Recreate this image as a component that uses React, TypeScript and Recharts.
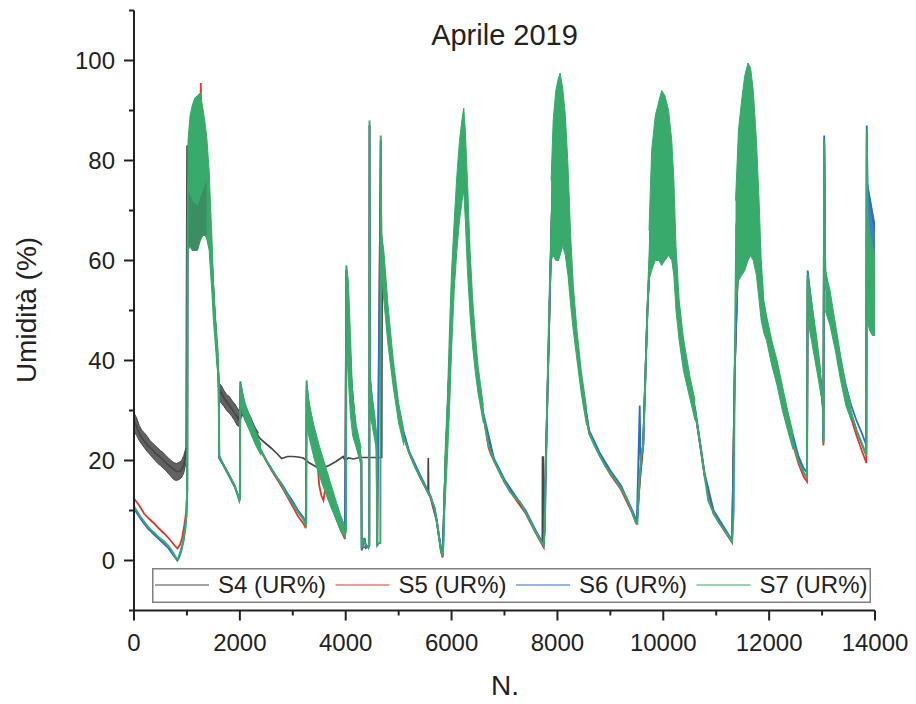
import { Area, ComposedChart, Legend, Line, XAxis, YAxis } from "recharts";

type Pt = [number, number];
type Band = [number, number, number];

const FONT = "'Liberation Sans', Arial, sans-serif";
const INK = "#222";

const SERIES_NAMES = ["S4 (UR%)", "S5 (UR%)", "S6 (UR%)", "S7 (UR%)"];
const SERIES_COLORS = ["#474747", "#e3342f", "#2c6bd0", "#37aa6c"];

const X_TICKS = [0, 1000, 2000, 3000, 4000, 5000, 6000, 7000, 8000, 9000, 10000, 11000, 12000, 13000, 14000];
const X_LABELED = [0, 2000, 4000, 6000, 8000, 10000, 12000, 14000];
const Y_TICKS = [-10, 0, 10, 20, 30, 40, 50, 60, 70, 80, 90, 100, 110];
const Y_LABELED = [0, 20, 40, 60, 80, 100];

// S4 (grigio)
const S4: Pt[] = [
  [0, 28], [60, 26.5], [120, 25], [190, 24], [260, 23], [330, 22.3], [400, 21.5], [480, 20.8], [560, 20],
  [640, 19.2], [720, 18.5], [800, 17.8], [880, 17.8], [930, 18.8], [960, 20], [985, 22], [995, 60], [1002, 83],
  [1010, 70], [1050, 68], [1100, 66], [1150, 67], [1200, 66], [1250, 68], [1300, 70], [1350, 74], [1420, 70],
  [1470, 58], [1520, 50], [1560, 43], [1590, 37], [1600, 34.5], [1650, 33.5], [1700, 32.5], [1800, 31],
  [1900, 29.5], [1970, 28.3], [2000, 29.5], [2040, 31], [2100, 29.5], [2200, 27.5], [2300, 25.5], [2400, 24.2],
  [2500, 23.3], [2600, 22.4], [2700, 21.4], [2790, 20.4], [2900, 20.8], [3000, 20.8], [3100, 20.7], [3200, 20.5],
  [3300, 19.6], [3400, 19], [3500, 18.4], [3600, 18.6], [3700, 19.1], [3800, 19.7], [3900, 20.4], [3950, 20.8],
  [3990, 20], [4050, 20.5], [4150, 20.3], [4250, 20.6], [4680, 20.6], [4690, 62], [4720, 57], [4800, 47],
  [4900, 37], [5000, 29], [5100, 24.5], [5200, 21.5], [5300, 19], [5400, 16.8], [5500, 14.8], [5555, 13.6],
  [5560, 20.5], [5566, 13.4], [5600, 12.8], [5680, 10.5], [5760, 5], [5830, 0.8], [5880, 18], [6000, 50],
  [6100, 70], [6230, 84], [6300, 67], [6400, 47], [6500, 36], [6600, 29], [6800, 20], [7000, 15.8], [7200, 12.6],
  [7400, 9.6], [7600, 5.5], [7715, 3.4], [7718, 20.7], [7735, 20.7], [7738, 3], [7760, 6], [7800, 28], [7900, 72],
  [8050, 80], [8200, 68], [8300, 50], [8450, 35.5], [8600, 25.5], [8800, 21], [9000, 17.5], [9200, 14.5],
  [9400, 10], [9500, 7.5], [9560, 16], [9620, 23], [9700, 50], [9800, 72], [9970, 77], [10120, 75], [10230, 57],
  [10380, 41], [10600, 30], [10780, 17], [10950, 9.5], [11150, 6.2], [11300, 3.8], [11350, 38], [11450, 72],
  [11600, 80], [11780, 68], [11880, 50.5], [12050, 41.5], [12250, 32.5], [12450, 23.8], [12650, 17.6],
  [12715, 16.6], [12728, 57], [12900, 41], [13015, 31], [13025, 23.5], [13040, 84], [13060, 56], [13250, 44.5],
  [13450, 33], [13650, 26], [13835, 21], [13845, 85], [13860, 65], [14000, 56],
];

const S4_BAND_A: Band[] = [
  [0, 25.8, 29.5], [50, 25, 28.5], [100, 24, 27], [150, 23.2, 26], [200, 22.5, 25.5], [250, 21.8, 24.8],
  [300, 21.2, 24], [350, 20.6, 23.5], [400, 20, 23], [450, 19.4, 22.5], [500, 19, 22], [550, 18.5, 21.6],
  [600, 18, 21], [650, 17.4, 20.5], [700, 16.8, 20], [750, 16.2, 19.6], [800, 16, 19.4], [850, 16.2, 19.6],
  [900, 16.6, 20], [940, 17.5, 21], [980, 19.5, 22.5],
];
// nel picco 1 il grigio si vede attraverso il verde
const S4_BAND_B: Band[] = [
  [1030, 62.5, 74], [1100, 62, 72], [1200, 62, 71], [1300, 65, 74], [1370, 65, 76],
];
const S4_BAND_C: Band[] = [
  [1600, 32, 35.5], [1650, 31.5, 35], [1700, 30.8, 34], [1750, 30, 33.2], [1800, 29.5, 32.8], [1850, 28.8, 32],
  [1900, 28, 31.4], [1950, 27, 30.5], [1990, 26.8, 30], [2020, 28.5, 31.8], [2060, 29.2, 32.5], [2100, 28, 31],
  [2150, 27, 29.8], [2200, 26, 28.8], [2250, 25, 27.5], [2300, 24.4, 26.4], [2350, 24, 25.6],
];

// S5 (rosso)
const S5: Pt[] = [
  [0, 12.4], [100, 11], [190, 9.4], [280, 8.4], [380, 7.4], [470, 6.4], [570, 5.4], [660, 4.4], [760, 3.1],
  [820, 2.4], [870, 3.2], [910, 4.6], [950, 7], [990, 10], [1005, 14], [1012, 60], [1050, 74], [1150, 72],
  [1200, 68], [1230, 71], [1250, 80], [1262, 95.5], [1275, 80], [1350, 76], [1440, 66], [1520, 50], [1590, 38],
  [1600, 36], [1610, 20.5], [1700, 19], [1800, 17], [1900, 15], [1960, 13.2], [1990, 12], [2000, 12.3],
  [2008, 34], [2100, 29.5], [2200, 26.8], [2400, 21.8], [2600, 18], [2800, 14.6], [3000, 10.8], [3100, 8.8],
  [3200, 7.4], [3245, 6.5], [3262, 34], [3300, 27], [3400, 22], [3460, 20.5], [3500, 15], [3540, 13], [3580, 12],
  [3620, 15], [3700, 12.5], [3800, 9], [3900, 6.2], [3985, 4.3], [4012, 58], [4100, 37], [4200, 24], [4295, 20],
  [4302, 2.5], [4445, 3], [4450, 87], [4458, 36], [4585, 22.5], [4595, 3], [4662, 84], [4672, 64], [4800, 47],
  [5000, 29], [5200, 21.5], [5400, 16.8], [5600, 12.6], [5720, 7.8], [5800, 1.8], [5830, 0.6], [5880, 18],
  [6000, 50], [6100, 70], [6230, 84], [6300, 67], [6400, 47], [6500, 36], [6600, 29], [6700, 22.5], [6750, 21],
  [6800, 20], [7000, 15.6], [7200, 12.4], [7400, 9.4], [7600, 5.3], [7740, 2.6], [7800, 28], [7900, 72],
  [8050, 80], [8200, 68], [8300, 50], [8450, 35.5], [8600, 25.5], [8800, 21], [9000, 17.2], [9200, 14.2],
  [9400, 9.8], [9500, 7.2], [9560, 17], [9620, 23], [9700, 50], [9800, 72], [9970, 77], [10120, 75], [10230, 57],
  [10380, 41], [10600, 30], [10780, 17], [10950, 9.3], [11150, 6], [11300, 3.6], [11350, 38], [11450, 72],
  [11600, 80], [11780, 68], [11880, 50.5], [12050, 41.2], [12250, 32], [12450, 23.2], [12550, 19.5],
  [12650, 16.8], [12715, 15.8], [12728, 56], [12760, 53], [12900, 41], [12980, 34.5], [13015, 30.5],
  [13025, 23], [13040, 83], [13060, 56], [13150, 50], [13250, 44], [13350, 38], [13450, 32.5], [13550, 28.5],
  [13650, 25], [13750, 22], [13820, 20], [13835, 19.5], [13845, 84], [13860, 64], [13900, 59], [13950, 56],
  [14000, 55],
];

// S6 (blu)
const S6: Pt[] = [
  [0, 10.4], [120, 8.4], [260, 6.4], [380, 5.2], [520, 3.8], [640, 2.6], [760, 0.8], [820, 0], [860, 0.8],
  [900, 2.2], [940, 4.2], [990, 8.8], [1005, 14], [1012, 60], [1050, 76], [1150, 79], [1250, 80], [1350, 77],
  [1440, 66], [1520, 50], [1590, 38], [1600, 36], [1610, 20.5], [1700, 18.8], [1800, 16.8], [1900, 14.8],
  [1990, 12.3], [2000, 12.5], [2008, 35.8], [2050, 33.2], [2100, 30], [2200, 27], [2300, 24.2], [2400, 22],
  [2500, 20], [2600, 18.3], [2700, 16.6], [2800, 15.2], [2900, 13.4], [3000, 11.8], [3100, 10], [3200, 8.6],
  [3245, 7.4], [3262, 35], [3400, 23], [3600, 16.5], [3800, 10.5], [3985, 5], [4012, 58], [4100, 37],
  [4200, 24.5], [4295, 20], [4302, 2], [4360, 4.5], [4380, 2.5], [4445, 3], [4450, 87], [4458, 36], [4585, 23],
  [4595, 3], [4662, 84], [4672, 64], [4800, 47], [5000, 29.2], [5200, 21.8], [5400, 17.2], [5600, 13],
  [5720, 8], [5800, 2], [5830, 1], [5880, 18], [6000, 50], [6100, 71], [6230, 85], [6300, 67], [6400, 47],
  [6500, 36.5], [6600, 29.5], [6800, 20.4], [7000, 16.2], [7200, 13], [7400, 10], [7600, 5.8], [7740, 3.2],
  [7800, 28], [7900, 72], [8050, 82], [8200, 69], [8300, 50], [8450, 36], [8600, 26], [8800, 21.5], [9000, 18],
  [9200, 15], [9400, 10.4], [9500, 7.8], [9555, 31], [9570, 20], [9620, 23], [9700, 50], [9800, 72],
  [9970, 78], [10120, 76], [10230, 58], [10380, 41.5], [10600, 30.5], [10780, 17.5], [10950, 10],
  [11150, 6.6], [11300, 4], [11350, 38], [11450, 73], [11600, 81], [11780, 69], [11880, 52], [11950, 48],
  [12050, 43], [12150, 38.5], [12250, 33.5], [12350, 29], [12450, 25], [12550, 21], [12650, 18.5],
  [12715, 17.6], [12728, 58], [12760, 55], [12900, 42.5], [12980, 36], [13015, 32], [13025, 24], [13040, 85],
  [13060, 58], [13150, 52], [13250, 46], [13350, 40], [13450, 35], [13550, 31], [13650, 28], [13750, 25.5],
  [13820, 23.5], [13835, 23], [13845, 87], [13860, 74], [13900, 72], [13950, 69], [14000, 66],
];
const S6_BAND: Band[] = [
  [13850, 62, 76], [13900, 60, 73], [13950, 58, 70], [14000, 56, 67],
];

// S7 (verde)
const S7: Pt[] = [
  [0, 10.8], [60, 9.8], [120, 8.8], [190, 7.8], [260, 6.8], [330, 6], [380, 5.6], [450, 4.8], [520, 4.2],
  [570, 3.8], [640, 3], [700, 2.2], [760, 1.2], [800, 0.4], [830, 0.3], [860, 1.2], [900, 2.6], [940, 4.5],
  [970, 6.5], [990, 9], [1005, 14], [1012, 60], [1020, 75], [1100, 78], [1200, 80], [1300, 78], [1380, 74],
  [1440, 66], [1480, 58], [1520, 50], [1560, 43], [1590, 38], [1600, 36], [1610, 21], [1650, 20], [1700, 19],
  [1800, 17], [1900, 15], [1960, 13], [1990, 12], [2000, 12.5], [2008, 35], [2050, 33], [2100, 29.5],
  [2200, 27], [2300, 24], [2400, 22], [2500, 20], [2600, 18.3], [2700, 16.6], [2800, 15], [2900, 13],
  [3000, 11.3], [3100, 9.6], [3200, 8.2], [3245, 7], [3255, 7.5], [3262, 36], [3300, 28], [3400, 23.5],
  [3500, 20], [3600, 16.5], [3700, 13.5], [3800, 10.5], [3900, 7.5], [3985, 5], [4005, 6], [4012, 59],
  [4030, 53], [4060, 46], [4100, 37], [4130, 29], [4200, 24.5], [4280, 21], [4295, 20], [4302, 2.5],
  [4330, 4.5], [4360, 3.5], [4400, 3], [4430, 2.5], [4445, 3], [4450, 88], [4458, 36], [4500, 30],
  [4550, 26.5], [4585, 23], [4595, 3], [4630, 3.5], [4655, 3.5], [4662, 85], [4672, 64], [4720, 57],
  [4800, 47], [4900, 37], [5000, 29], [5100, 24.5], [5200, 21.5], [5300, 19], [5400, 16.8], [5500, 14.8],
  [5600, 12.8], [5680, 10.5], [5720, 8], [5760, 5], [5800, 2], [5830, 0.8], [5850, 4], [5880, 18],
  [5950, 31], [6000, 50], [6050, 62], [6100, 70], [6150, 76], [6200, 80], [6230, 84], [6260, 77], [6300, 67],
  [6350, 55], [6400, 47], [6450, 41], [6500, 36], [6600, 29], [6700, 23], [6800, 20], [6900, 17.8],
  [7000, 15.8], [7100, 13.8], [7200, 12.6], [7300, 11.6], [7400, 9.6], [7500, 7.6], [7600, 5.5], [7700, 3.6],
  [7740, 3], [7760, 6], [7800, 28], [7850, 52], [7900, 72], [7950, 77], [8000, 80], [8050, 80], [8100, 79],
  [8150, 75], [8200, 68], [8250, 58], [8300, 50], [8370, 43], [8450, 35.5], [8500, 31], [8550, 28.5],
  [8600, 25.5], [8700, 23], [8800, 21], [8900, 19], [9000, 17.5], [9100, 16], [9200, 14.5], [9300, 12.5],
  [9400, 10], [9480, 7.6], [9510, 7.4], [9550, 16], [9580, 21], [9620, 23], [9660, 36], [9700, 50],
  [9750, 64], [9800, 72], [9900, 76], [9970, 77], [10050, 76], [10120, 75], [10180, 70], [10230, 57],
  [10300, 48], [10380, 41], [10500, 34.5], [10600, 30], [10700, 23], [10780, 17], [10850, 12], [10950, 9.5],
  [11050, 7.6], [11150, 6.2], [11250, 4.6], [11300, 3.8], [11330, 10], [11350, 38], [11380, 67], [11450, 72],
  [11530, 77], [11600, 80], [11650, 80], [11720, 76], [11780, 68], [11830, 58], [11880, 50.5], [11950, 46.5],
  [12050, 41.5], [12150, 37.5], [12250, 32.5], [12350, 28], [12450, 23.8], [12550, 20], [12650, 17.6],
  [12715, 16.6], [12728, 57], [12760, 53], [12800, 48], [12900, 41], [12980, 35], [13015, 31], [13025, 23.5],
  [13040, 84], [13060, 56], [13150, 50.5], [13250, 44.5], [13350, 38.5], [13450, 33], [13550, 29.5],
  [13650, 26], [13750, 23.5], [13820, 21.5], [13835, 21], [13845, 86], [13860, 65], [13900, 60], [13950, 57],
  [14000, 56],
];

const S7_BANDS: Band[][] = [
  [[1012, 60, 70], [1020, 62, 84], [1060, 63, 89], [1100, 62, 91], [1150, 62, 92.5], [1200, 62, 93],
    [1250, 64, 93.5], [1300, 65, 90.5], [1350, 65, 87], [1380, 64, 84], [1420, 62, 78], [1450, 57, 70],
    [1475, 53, 64], [1500, 48, 56], [1530, 44, 50], [1560, 40, 46], [1595, 36, 41]],
  [[2008, 31, 35.5], [2100, 28, 31.5], [2200, 25.5, 28.5], [2300, 23, 25.8], [2400, 21, 23.2]],
  [[3262, 27, 36], [3300, 25, 32], [3400, 20.5, 27], [3500, 17, 23], [3600, 14, 19.5], [3700, 11.2, 16],
    [3800, 8.6, 12.5], [3900, 6, 9.2], [3985, 4.5, 6.8]],
  [[4012, 44, 59], [4050, 36, 56], [4090, 29, 45], [4130, 25, 33], [4200, 22.5, 27], [4290, 19, 22.5]],
  [[4455, 29, 38], [4500, 27, 33], [4550, 24, 29], [4588, 21.5, 25]],
  [[4670, 58, 66], [4720, 52, 62], [4800, 43, 51], [4900, 34.5, 40], [5000, 27.5, 31.5], [5100, 23, 26]],
  [[5870, 10, 20], [5920, 20, 32], [5960, 30, 46], [6000, 42, 58], [6050, 54, 68], [6100, 62, 77],
    [6150, 68, 84], [6200, 72, 88.5], [6230, 74, 90.5], [6260, 68, 86], [6300, 58, 76], [6350, 49, 62],
    [6400, 42.5, 52], [6450, 37.5, 45], [6500, 33.5, 39], [6600, 27.5, 31]],
  [[7880, 60, 76], [7920, 61, 88], [7970, 60, 94], [8020, 60, 96.5], [8050, 61, 97.5], [8100, 63, 94.5],
    [8150, 61, 89], [8200, 57, 79], [8250, 51, 65], [8300, 46, 55], [8370, 40, 46], [8450, 33.5, 38],
    [8550, 27, 30.5]],
  [[9730, 56, 66], [9780, 58, 82], [9850, 60, 89], [9920, 60, 92], [9970, 59, 94], [10030, 60, 93],
    [10100, 61, 90], [10160, 60, 84], [10200, 57, 76], [10240, 50, 63], [10300, 44, 52], [10380, 38, 44.5],
    [10500, 32.5, 37], [10600, 28, 32]],
  [[11365, 50, 72], [11420, 56, 86], [11480, 57, 92], [11540, 58, 97], [11600, 60, 99.5], [11650, 61, 98.5],
    [11700, 60, 94], [11760, 57, 84], [11810, 52, 72], [11850, 48, 60], [11900, 45.5, 52], [11950, 44, 49],
    [12050, 39, 44], [12150, 35, 40], [12250, 30, 35], [12350, 26, 30], [12450, 22.2, 25.5]],
  [[12730, 48, 57.5], [12800, 44, 52], [12900, 38, 44.5], [12980, 33, 37.5]],
  [[13060, 50, 58], [13150, 47, 54], [13250, 42, 47.5], [13350, 36, 41], [13450, 31, 35], [13550, 28, 31]],
  [[13850, 48, 70], [13900, 46, 66], [13950, 45, 63], [14000, 45, 61]],
];

const pts = (a: Pt[]) => a.map(([x, y]) => ({ x, y }));
const band = (a: Band[]) => a.map(([x, lo, hi]) => ({ x, r: [lo, hi] }));

function XTick({ x, y, payload }: any) {
  const major = X_LABELED.includes(payload.value);
  return (
    <g>
      <line x1={x} x2={x} y1={y} y2={y + (major ? 10 : 5)} stroke={INK} strokeWidth={2} />
      {major && (
        <text x={x} y={y + 40} textAnchor="middle" fontSize={24} fontFamily={FONT} fill={INK}>
          {payload.value}
        </text>
      )}
    </g>
  );
}

function YTick({ x, y, payload }: any) {
  const major = Y_LABELED.includes(payload.value);
  return (
    <g>
      <line x1={x} x2={x - (major ? 10 : 5)} y1={y} y2={y} stroke={INK} strokeWidth={2} />
      {major && (
        <text x={x - 19} y={y + 8.5} textAnchor="end" fontSize={24} fontFamily={FONT} fill={INK}>
          {payload.value}
        </text>
      )}
    </g>
  );
}

function LegendBox() {
  return (
    <svg width={719} height={35} style={{ display: "block" }}>
      <rect x={0.75} y={0.75} width={717.5} height={33.5} fill="#fff" stroke="#808080" strokeWidth={1.5} />
      {SERIES_NAMES.map((name, i) => {
        const x1 = 3 + i * 180.5;
        return (
          <g key={name}>
            <line x1={x1} x2={x1 + 54} y1={17} y2={17} stroke={SERIES_COLORS[i]} strokeWidth={1.8} strokeOpacity={0.5} />
            <text x={x1 + 63} y={25} fontSize={24} fontFamily={FONT} fill={INK}>
              {name}
            </text>
          </g>
        );
      })}
    </svg>
  );
}

export default function App() {
  const [c4, c5, c6, c7] = SERIES_COLORS;
  return (
    <div style={{ position: "absolute", left: 0, top: 0, width: 916, height: 704, background: "#fff" }}>
      <ComposedChart width={916} height={704} margin={{ top: 10.5, right: 41, bottom: 33.5, left: 54 }}>
        <XAxis
          dataKey="x"
          type="number"
          domain={[0, 14000]}
          ticks={X_TICKS}
          interval={0}
          tickSize={0}
          tickMargin={0}
          tickLine={false}
          tick={(p: any) => <XTick {...p} />}
          axisLine={{ stroke: INK, strokeWidth: 2 }}
          height={60}
          allowDataOverflow
        />
        <YAxis
          type="number"
          domain={[-10, 110]}
          ticks={Y_TICKS}
          interval={0}
          tickSize={0}
          tickMargin={0}
          tickLine={false}
          tick={(p: any) => <YTick {...p} />}
          axisLine={{ stroke: INK, strokeWidth: 2 }}
          width={80}
          allowDataOverflow
        />
        {[S4_BAND_A, S4_BAND_C].map((b, i) => (
          <Area key={"b4" + i} data={band(b)} dataKey="r" type="linear" fill={c4} fillOpacity={0.85} stroke={c4}
            strokeWidth={1} legendType="none" isAnimationActive={false} zIndex={401} />
        ))}
        <Line data={pts(S4)} dataKey="y" name={SERIES_NAMES[0]} type="linear" stroke={c4} strokeWidth={1.7}
          dot={false} isAnimationActive={false} zIndex={402} />
        <Line data={pts(S5)} dataKey="y" name={SERIES_NAMES[1]} type="linear" stroke={c5} strokeWidth={1.8}
          dot={false} isAnimationActive={false} zIndex={403} />
        <Area data={band(S6_BAND)} dataKey="r" type="linear" fill={c6} fillOpacity={0.9} stroke={c6}
          strokeWidth={1} legendType="none" isAnimationActive={false} zIndex={404} />
        <Line data={pts(S6)} dataKey="y" name={SERIES_NAMES[2]} type="linear" stroke={c6} strokeWidth={1.8}
          dot={false} isAnimationActive={false} zIndex={405} />
        {S7_BANDS.map((b, i) => (
          <Area key={"b7" + i} data={band(b)} dataKey="r" type="linear" fill={c7} fillOpacity={1} stroke={c7}
            strokeWidth={1} legendType="none" isAnimationActive={false} zIndex={406} />
        ))}
        <Line data={pts(S7)} dataKey="y" name={SERIES_NAMES[3]} type="linear" stroke={c7} strokeWidth={2}
          dot={false} isAnimationActive={false} zIndex={407} />
        <Area data={band(S4_BAND_B)} dataKey="r" type="linear" fill={c4} fillOpacity={0.28} stroke="none"
          legendType="none" isAnimationActive={false} zIndex={408} />
        <Legend
          layout="horizontal"
          verticalAlign="middle"
          align="center"
          content={() => <LegendBox />}
          wrapperStyle={{ left: 152, top: 568, width: 719, height: 35 }}
        />
      </ComposedChart>
      <svg width={916} height={704} style={{ position: "absolute", left: 0, top: 0, pointerEvents: "none" }}>
        <text x={504.5} y={45} textAnchor="middle" fontSize={29} fontFamily={FONT} fill={INK}>
          Aprile 2019
        </text>
        <text x={505} y={695} textAnchor="middle" fontSize={28} fontFamily={FONT} fill={INK}>
          N.
        </text>
        <text x={36} y={310} textAnchor="middle" fontSize={28} fontFamily={FONT} fill={INK}
          transform="rotate(-90 36 310)">
          Umidità (%)
        </text>
      </svg>
    </div>
  );
}
